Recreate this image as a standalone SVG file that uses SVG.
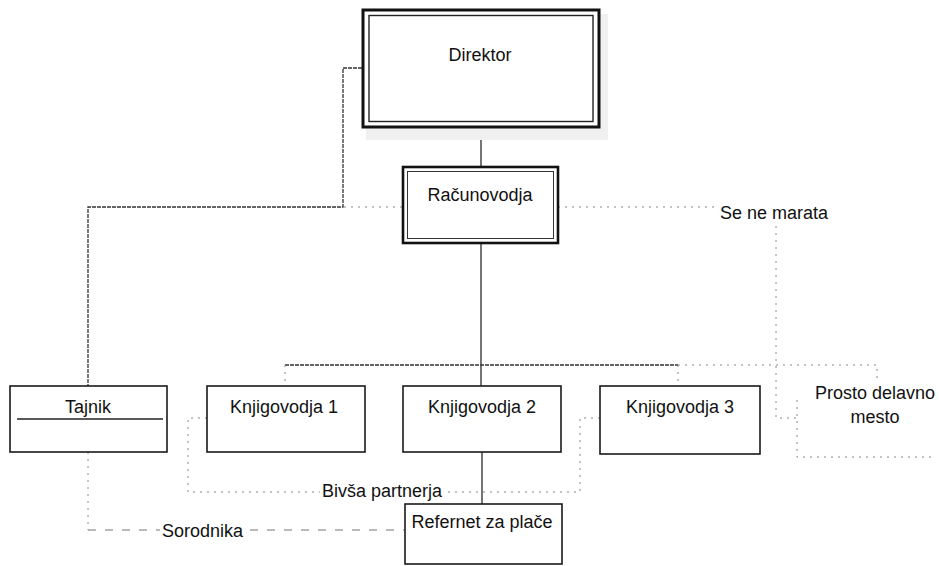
<svg xmlns="http://www.w3.org/2000/svg" width="939" height="566" viewBox="0 0 939 566">
<style>
.box{fill:#fff;stroke:#1a1a1a;stroke-width:1.6}
.lbl{font-family:"Liberation Sans",Arial,sans-serif;font-size:18px;fill:#111}
.solid{fill:none;stroke:#2a2a2a;stroke-width:1.3}
.dense{fill:none;stroke:#333;stroke-width:1.3;stroke-dasharray:4 1}
.dot{fill:none;stroke:#888;stroke-width:1;stroke-dasharray:2 5}
.dash{fill:none;stroke:#777;stroke-width:1.2;stroke-dasharray:8 9}
</style>
<rect width="939" height="566" fill="#fff"/>
<g id="connectors">
  <path class="solid" d="M481,128 V167"/>
  <path class="solid" d="M481,243 V386"/>
  <path class="dense" d="M285,365 H678"/>
  <path class="dot" d="M285,365 V386"/>
  <path class="dot" d="M678,365 V386"/>
  <path class="solid" d="M482,452 V504"/>
  <path class="dense" d="M362,68 H343 V207 H88 V386"/>
  <path class="dot" d="M344,207 H402"/>
  <path class="dot" d="M558,207 H718"/>
  <path class="dot" d="M776,226 V418 H797"/>
  <path class="dot" d="M678,365 H877 V380"/>
  <path class="dot" d="M207,418 H188 V492 H320"/>
  <path class="dot" d="M448,492 H580 V418 H600"/>
  <path class="dot" d="M88,452 V530"/>
  <path class="dash" d="M88,530 H160"/>
  <path class="dash" d="M250,530 H404"/>
</g>
<g id="direktor">
  <rect x="366" y="14" width="242" height="126" fill="#f0f0f0"/>
  <rect x="363" y="10" width="236" height="117" fill="#fff" stroke="#111" stroke-width="3"/>
  <rect x="369" y="15.5" width="224" height="106" fill="none" stroke="#222" stroke-width="1.4"/>
  <text class="lbl" x="480" y="61" text-anchor="middle">Direktor</text>
</g>
<g id="racunovodja">
  <rect x="403" y="167" width="155" height="76" fill="#fff" stroke="#111" stroke-width="2.6"/>
  <rect x="407.5" y="171.5" width="146" height="67" fill="none" stroke="#333" stroke-width="1"/>
  <text class="lbl" x="480" y="201" text-anchor="middle">Računovodja</text>
</g>
<g id="tajnik">
  <rect class="box" x="10" y="386" width="157" height="66"/>
  <line x1="17" y1="419" x2="163" y2="419" stroke="#222" stroke-width="1.5"/>
  <text class="lbl" x="88" y="413" text-anchor="middle">Tajnik</text>
</g>
<g id="knjigovodja1">
  <rect class="box" x="207" y="386" width="158" height="66"/>
  <text class="lbl" x="284" y="413" text-anchor="middle">Knjigovodja 1</text>
</g>
<g id="knjigovodja2">
  <rect class="box" x="403" y="386" width="158" height="66"/>
  <text class="lbl" x="482" y="413" text-anchor="middle">Knjigovodja 2</text>
</g>
<g id="knjigovodja3">
  <rect class="box" x="600" y="386" width="160" height="68"/>
  <text class="lbl" x="680" y="413" text-anchor="middle">Knjigovodja 3</text>
</g>
<g id="referent">
  <rect class="box" x="405" y="504" width="157" height="60"/>
  <text class="lbl" x="482" y="528" text-anchor="middle">Refernet za plače</text>
</g>
<g id="prosto">
  <path class="dot" d="M797,400 V457 H935"/>
  <text class="lbl" x="875" y="399" text-anchor="middle">Prosto delavno</text>
  <text class="lbl" x="875" y="423" text-anchor="middle">mesto</text>
</g>
<g id="labels">
  <text class="lbl" x="720" y="219">Se ne marata</text>
  <text class="lbl" x="322" y="497">Bivša partnerja</text>
  <text class="lbl" x="162" y="537">Sorodnika</text>
</g>
</svg>
